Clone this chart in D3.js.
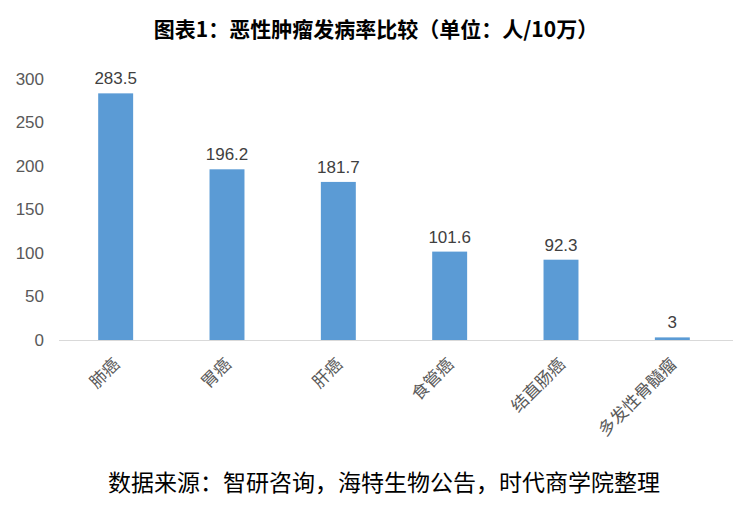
<!DOCTYPE html>
<html><head><meta charset="utf-8">
<script src="https://cdn.jsdelivr.net/npm/d3@7"></script>
<style>body{margin:0;background:#fff}svg{display:block}</style>
</head><body>
<svg id="c" width="750" height="505"></svg>
<script>
const categories = ["肺癌","胃癌","肝癌","食管癌","结直肠癌","多发性骨髓瘤"];
const values = [283.5,196.2,181.7,101.6,92.3,3];
const yTicks = [0,50,100,150,200,250,300];
const title = "图表1：恶性肿瘤发病率比较（单位：人/10万）";
const source = "数据来源：智研咨询，海特生物公告，时代商学院整理";

const svg = d3.select("#c");
const x = d3.scaleBand().domain(categories).range([60,728]).paddingInner(0.686).paddingOuter(0.343);
const y = d3.scaleLinear().domain([0,300]).range([340,79]);
const numFont = "'Liberation Sans', Arial, sans-serif";
const cjk = "'Noto Sans CJK SC', sans-serif";

svg.append("text").attr("x",376).attr("y",37).attr("text-anchor","middle")
  .attr("font-family",cjk).attr("font-weight","bold").attr("font-size",21)
  .attr("fill","#000").text(title);

const yAxis = svg.append("g").attr("transform","translate(44,0)")
  .call(d3.axisLeft(y).tickValues(yTicks).tickSize(0).tickPadding(0));
yAxis.select(".domain").remove();
yAxis.selectAll("text").attr("font-family",numFont).attr("font-size",17).attr("fill","#595959");

svg.append("line").attr("x1",59).attr("x2",733).attr("y1",y(0)+0.5).attr("y2",y(0)+0.5)
  .attr("stroke","#d9d9d9").attr("stroke-width",1);

svg.append("g").selectAll("rect").data(values).join("rect")
  .attr("x",(d,i)=>x(categories[i])).attr("width",x.bandwidth())
  .attr("y",d=>y(d)).attr("height",d=>y(0)-y(d)).attr("fill","#5B9BD5");

svg.append("g").selectAll("text").data(values).join("text")
  .attr("x",(d,i)=>x(categories[i])+x.bandwidth()/2).attr("y",d=>y(d)-9)
  .attr("text-anchor","middle").attr("font-family",numFont).attr("font-size",17)
  .attr("fill","#404040").text(d=>d);

svg.append("g").selectAll("text").data(categories).join("text")
  .attr("transform",d=>`translate(${x(d)+x.bandwidth()/2+1},361) rotate(-45)`)
  .attr("text-anchor","end").attr("dy","0.35em")
  .attr("font-family",cjk).attr("font-size",17).attr("fill","#595959").text(d=>d);

svg.append("text").attr("x",384).attr("y",491).attr("text-anchor","middle")
  .attr("font-family",cjk).attr("font-size",23).attr("fill","#000").text(source);
</script>
</body></html>
